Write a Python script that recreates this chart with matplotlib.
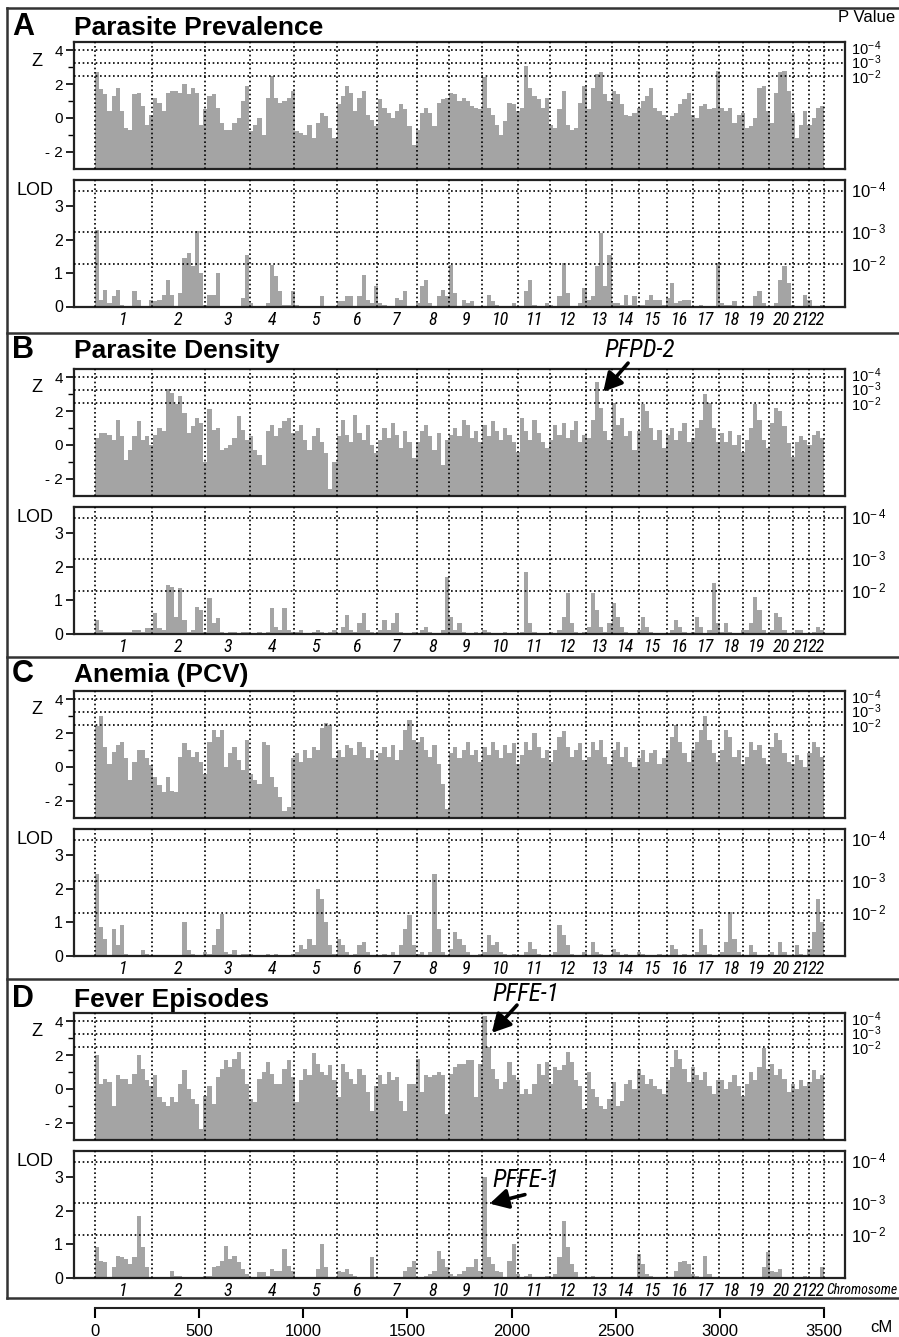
import os
import numpy as np
import matplotlib
matplotlib.use('Agg')
import matplotlib.pyplot as plt
from matplotlib import font_manager
from matplotlib.font_manager import FontProperties
from matplotlib.lines import Line2D
from matplotlib.transforms import blended_transform_factory

plt.rcParams['font.family'] = ['Liberation Sans', 'DejaVu Sans']
plt.rcParams['mathtext.fontset'] = 'custom'
plt.rcParams['mathtext.rm'] = 'Liberation Sans'
plt.rcParams['mathtext.it'] = 'Liberation Sans:italic'


def pick_condensed():
    """Find a narrow / condensed sans italic face if one is installed."""
    best, best_score = None, -1
    for f in font_manager.fontManager.ttflist:
        nm = f.name.lower()
        fn = os.path.basename(f.fname).lower()
        narrow = ('narrow' in nm or 'condensed' in nm or 'narrow' in fn or 'condensed' in fn
                  or str(f.stretch) in ('condensed', 'semi-condensed', 'extra-condensed'))
        if not narrow or 'mono' in nm or 'mono' in fn:
            continue
        if 'serif' in nm and 'sans' not in nm:
            continue
        score = 1
        if 'liberation' in nm or 'arial' in nm:
            score += 6
        elif 'roboto' in nm or 'open sans' in nm or 'noto sans' in nm:
            score += 4
        elif 'dejavu' in nm:
            score += 2
        if f.style in ('italic', 'oblique') or 'italic' in fn or 'oblique' in fn:
            score += 5
        if 'bold' in fn or 'light' in fn or 'thin' in fn or 'black' in fn or 'medium' in fn:
            score -= 4
        if score > best_score:
            best, best_score = f, score
    return best


_cond = pick_condensed()


def narrow_font(size):
    if _cond is not None:
        return FontProperties(fname=_cond.fname, size=size)
    return FontProperties(family='Liberation Sans', style='italic', size=size * 0.82)

# ---------------- data ----------------
BIN = 20  # cM per bar
bin_start_cm = np.arange(0, 3500, BIN)

chrom_bounds_cm = [0, 275, 527, 747, 955, 1160, 1352, 1544, 1701, 1859, 2032, 2184,
                   2357, 2483, 2611, 2745, 2869, 2997, 3112, 3236, 3352, 3427, 3497]
chrom_labels = [str(i) for i in range(1, 23)]

z_thresholds = [4.0, 3.25, 2.48]
lod_thresholds = [3.46, 2.22, 1.26]
pval_labels = [r'$\mathregular{10^{-\,4}}$', r'$\mathregular{10^{-\,3}}$', r'$\mathregular{10^{-\,2}}$']

cm_ticks = [0, 500, 1000, 1500, 2000, 2500, 3000, 3500]
z_ticks = [-2, 0, 2, 4]
z_ticklabels = ['- 2', '0', '2', '4']
lod_ticks = [0, 1, 2, 3]

prev_z = [2.7, 1.7, 1.4, 0.4, 1.3, 1.8, 0.4, -0.6, -0.7, 1.4, 1.5, 0.7, -0.4, 0.2,
          1.2, 0.9, 0.4, 1.5, 1.6, 1.6, 1.5, 2.0, 1.4, 1.8, 1.5, -0.4, 0.5,
          1.3, 1.4, 0.6, -0.3, -0.7, -0.7, -0.3, 0.0, 1.0, 1.9, -0.8,
          -0.4, 0.0, -1.0, 1.2, 2.5, 1.2, 0.9, 1.0, 1.2, 1.6,
          -0.8, -0.9, -1.0, -0.4, -1.2, -0.3, 0.3, 0.1, -0.6, -1.2,
          0.8, 1.3, 1.9, 1.5, 0.4, 1.2, 1.6, 0.2, -0.1, -0.5,
          1.1, 0.6, 0.3, 0.0, 0.4, 0.8, 0.5, -0.5, -1.6,
          -0.7, 0.3, 0.6, 0.3, -0.5, 0.9, 1.1, 1.2,
          1.5, 1.4, 1.0, 1.2, 1.0, 0.7, 0.6, 0.5,
          2.4, 0.6, 0.2, -0.4, -1.0, -0.2, 0.9, 0.8, 0.4,
          0.6, 3.1, 1.8, 1.3, 1.1, 0.6, 1.2,
          -0.4, -0.6, 0.5, 1.6, -0.4, -0.7, -0.6, 0.9, 1.9,
          0.5, 1.8, 2.6, 2.7, 1.4, 1.0,
          1.6, 1.4, 0.8, 0.2, 0.1, 0.3,
          0.6, 1.0, 1.3, 1.8, 0.6, 0.4, 0.2,
          -0.1, 0.1, 0.3, 0.8, 1.1, 1.5,
          0.2, 0.0, 0.7, 0.8, 0.5, 0.6, 2.8,
          0.6, 0.4, 0.6, -0.3, 0.2, 0.3,
          -0.6, -0.5, 0.0, 1.8, 1.9, 0.4,
          -0.3, 1.5, 2.7, 2.8, 1.6,
          0.3, -1.2, -0.4, 0.4,
          -0.4, 0.0, 0.6, 0.7]

prev_lod = [2.3, 0.2, 0.5, 0.1, 0.3, 0.5, 0.05, 0, 0, 0.45, 0.2, 0, 0, 0.2,
            0.15, 0.2, 0.35, 0.8, 0.35, 0, 0.4, 1.45, 1.6, 1.2, 2.25, 1.0, 0.05,
            0.35, 0.35, 1.0, 0, 0, 0, 0, 0, 0.25, 1.55, 0.1,
            0, 0, 0, 0.1, 1.25, 0.9, 0.45, 0.05, 0.05, 0.45,
            0.05, 0, 0, 0, 0, 0, 0.3, 0, 0, 0,
            0.15, 0.15, 0.3, 0.3, 0, 0.3, 0.95, 0.2, 0.1, 0.6,
            0.1, 0.05, 0, 0, 0.25, 0.2, 0.45, 0, 0,
            0.1, 0.6, 0.8, 0.1, 0, 0.3, 0.5, 0.3,
            1.25, 0.4, 0, 0.2, 0.1, 0.15, 0, 0,
            0, 0.35, 0.15, 0.05, 0, 0, 0, 0.1, 0,
            0, 0.45, 0.8, 0.05, 0, 0, 0.1,
            0.05, 0, 0.3, 1.3, 0.4, 0, 0, 0.1, 0.55,
            0.2, 0.3, 1.2, 2.2, 0.6, 1.55,
            0.1, 0.1, 0.05, 0.35, 0.05, 0.3,
            0.05, 0.05, 0.2, 0.35, 0.2, 0.2, 0.05,
            0.25, 0.7, 0.1, 0.15, 0.2, 0.2,
            0, 0, 0.05, 0, 0, 0, 1.3,
            0.1, 0.05, 0.05, 0.15, 0, 0,
            0, 0, 0.3, 0.45, 0.1, 0,
            0, 0.1, 0.8, 1.2, 0.7,
            0.05, 0, 0, 0.35,
            0.2, 0, 0, 0.05]

dens_z = [0.4, 0.7, 0.7, 0.6, 0.3, 1.5, 0.5, -0.9, -0.3, 0.5, 1.4, 0.3, 0.5, 0.0,
          0.6, 1.0, 0.8, 3.3, 3.1, 2.4, 2.9, 1.9, 0.7, 1.1, 1.6, 1.3, -1.0,
          2.1, 0.9, 1.0, -0.3, -0.2, 0.0, 0.4, 1.7, 0.9, 0.3, 0.5,
          -0.3, -0.6, -1.2, 0.8, 1.2, 0.5, 1.0, 1.4, 1.6, 0.7,
          0.8, 1.2, 0.3, -0.3, 0.5, 1.0, 0.2, -0.5, -2.6, -1.0,
          0.5, 1.5, 0.6, 0.2, 1.8, 0.7, 0.3, 1.2, 0.0, -0.5,
          0.3, 1.0, 0.4, 1.3, 0.6, -0.2, 0.8, 0.2, -0.8,
          0.2, 0.8, 1.2, 0.5, -0.3, 0.7, -1.2, 0.3,
          0.6, 1.0, 0.5, 1.5, 1.2, 0.4, 0.8, 0.2,
          1.2, 0.5, 1.4, 0.8, 0.3, 1.0, 0.6, 0.2, -0.4,
          1.6, 0.8, 0.3, 1.5, 0.7, 0.2, -0.2,
          0.3, 1.2, 0.6, 1.3, 0.4, 0.9, 1.4, 0.2, 0.6,
          0.4, 1.5, 3.7, 2.2, 0.8, 0.3,
          2.5, 1.2, 1.6, 0.5, 0.8, -0.3,
          0.8, 2.4, 2.0, 1.0, 0.3, 0.9, -0.2,
          0.6, 1.0, 0.3, 0.8, 1.3, 0.2,
          0.4, 1.0, 1.5, 3.0, 2.5, 1.0, 0.2,
          0.7, 0.2, 0.8, 0.0, 0.6, -0.4,
          0.3, 1.0, 2.4, 1.5, 0.3, -0.2,
          1.3, 2.2, 2.0, 1.1, 0.1,
          -0.7, 0.2, 0.5, 0.3,
          0.0, 0.6, 0.8, 0.4]

dens_lod = [0.4, 0.1, 0.05, 0.05, 0.05, 0.05, 0.05, 0.05, 0.05, 0.1, 0.1, 0.05, 0.15, 0.15,
            0.6, 0.15, 0.1, 1.45, 1.4, 0.5, 1.35, 0.4, 0.05, 0.1, 0.8, 0.7, 0.05,
            1.05, 0.3, 0.45, 0.05, 0.0, 0.05, 0.05, 0.0, 0.05, 0.05, 0.0,
            0.0, 0.05, 0.0, 0.05, 0.75, 0.2, 0.1, 0.75, 0.1, 0.05,
            0.05, 0.1, 0.0, 0.0, 0.05, 0.1, 0.05, 0.0, 0.05, 0.1,
            0.0, 0.2, 0.55, 0.1, 0.05, 0.3, 0.6, 0.1, 0.05, 0.0,
            0.1, 0.4, 0.1, 0.3, 0.6, 0.05, 0.0, 0.0, 0.05,
            0.0, 0.1, 0.2, 0.05, 0.0, 0.0, 0.1, 1.7,
            0.5, 0.1, 0.3, 0.05, 0.0, 0.0, 0.05, 0.0,
            0.1, 0.05, 0.0, 0.0, 0.0, 0.05, 0.0, 0.0, 0.0,
            0.05, 1.85, 0.3, 0.05, 0.0, 0.0, 0.0,
            0.05, 0.0, 0.1, 0.5, 1.2, 0.3, 0.05, 0.0, 0.05,
            0.2, 1.2, 0.7, 0.2, 0.05, 0.3,
            0.9, 0.5, 0.2, 0.05, 0.0, 0.0,
            0.1, 0.5, 0.2, 0.05, 0.0, 0.0, 0.0,
            0.0, 0.1, 0.4, 0.2, 0.05, 0.0,
            0.05, 0.5, 0.2, 0.0, 0.1, 1.5, 0.3,
            0.05, 0.3, 0.05, 0.0, 0.0, 0.1,
            0.1, 0.3, 1.1, 0.7, 0.1, 0.0,
            0.1, 0.6, 0.5, 0.1, 0.0,
            0.0, 0.1, 0.1, 0.0,
            0.0, 0.05, 0.2, 0.1]

anem_z = [2.4, 3.0, 1.2, 0.2, 0.9, 1.3, 1.5, 0.5, -0.8, 0.3, 1.0, 1.0, 0.5, 0.1,
          -0.6, -1.1, -1.5, -0.6, -1.4, -1.5, 0.6, 1.4, 1.0, 0.6, 0.9, 0.3, -0.4,
          1.5, 2.2, 1.8, 2.2, 0.0, 0.8, 1.2, 0.4, -0.2, 1.6, -0.4,
          -0.8, -1.0, 1.5, 1.3, -0.6, -1.2, -1.8, -2.6, -2.4, 0.5,
          0.8, 0.3, 1.0, 0.5, 1.2, 1.0, 2.3, 2.6, 2.5, 0.5,
          1.0, 0.6, 1.3, 1.1, 0.7, 1.5, 1.2, 0.5, 1.0, 0.4,
          0.8, 1.2, 0.6, 1.3, 0.4, 1.0, 2.2, 2.8, 1.6,
          1.5, 1.8, 1.0, 0.6, 1.3, 0.2, -1.0, -2.5,
          0.8, 1.2, 0.5, 1.0, 1.5, 0.7, 1.0, 0.3,
          1.2, 0.7, 1.5, 1.0, 0.5, 1.3, 0.8, 1.4, 0.2,
          0.7, 1.5, 1.0, 2.0, 1.2, 0.5, 1.0,
          0.3, 1.0, 1.8, 2.1, 1.2, 0.6, 1.0, 1.4, 0.4,
          0.6, 1.5, 1.0, 1.6, 0.6, 0.2,
          1.0, 1.5, 0.6, 1.2, 0.3, 0.0,
          0.5, 1.0, 0.3, 0.8, 1.0, 0.2, 0.5,
          1.0, 1.8, 2.5, 1.5, 0.8, 0.3,
          1.0, 1.5, 2.2, 3.0, 1.6, 0.8, 0.3,
          1.0, 2.2, 1.8, 0.6, 1.0, 0.2,
          0.6, 1.5, 1.0, 1.3, 0.5, 0.2,
          1.2, 2.0, 1.6, 0.8, 0.3,
          0.2, 0.7, 0.4, 0.0,
          0.8, 1.5, 1.2, 0.6]

anem_lod = [2.45, 0.85, 0.5, 0.0, 0.8, 0.3, 0.9, 0.05, 0.0, 0.0, 0.0, 0.15, 0.05, 0.0,
            0.0, 0.0, 0.0, 0.0, 0.0, 0.0, 0.0, 1.0, 0.15, 0.05, 0.0, 0.0, 0.1,
            0.05, 0.3, 0.8, 1.25, 0.1, 0.05, 0.15, 0.0, 0.05, 0.05, 0.05,
            0.0, 0.0, 0.0, 0.05, 0.0, 0.05, 0.0, 0.0, 0.0, 0.05,
            0.1, 0.3, 0.2, 0.5, 0.3, 2.0, 1.7, 1.0, 0.3, 0.05,
            0.5, 0.3, 0.1, 0.0, 0.05, 0.3, 0.4, 0.1, 0.0, 0.0,
            0.0, 0.05, 0.0, 0.1, 0.0, 0.3, 0.8, 1.2, 0.3,
            0.05, 0.1, 0.0, 0.1, 2.45, 0.8, 0.1, 0.0,
            0.2, 0.7, 0.5, 0.3, 0.1, 0.0, 0.0, 0.05,
            0.1, 0.6, 0.3, 0.4, 0.1, 0.05, 0.0, 0.05, 0.0,
            0.0, 0.1, 0.4, 0.2, 0.05, 0.0, 0.0,
            0.0, 0.1, 0.9, 0.6, 0.3, 0.05, 0.0, 0.0, 0.1,
            0.0, 0.4, 0.1, 0.05, 0.0, 0.0,
            0.2, 0.1, 0.0, 0.05, 0.0, 0.0,
            0.1, 0.05, 0.0, 0.0, 0.0, 0.05, 0.0,
            0.0, 0.3, 0.2, 0.0, 0.05, 0.0,
            0.0, 0.1, 0.8, 0.3, 0.05, 0.0, 0.0,
            0.1, 0.4, 1.3, 0.5, 0.1, 0.0,
            0.0, 0.3, 0.1, 0.0, 0.0, 0.0,
            0.1, 0.0, 0.4, 0.1, 0.0,
            0.0, 0.3, 0.05, 0.0,
            0.2, 0.7, 1.7, 1.0]

fever_z = [2.0, 0.3, 0.6, 0.4, -1.0, 0.8, 0.6, 0.6, 0.3, 0.9, 2.0, 1.2, 0.5, 0.2,
           0.8, -0.5, -0.8, -1.0, -0.5, -0.8, 0.3, 1.1, 0.0, -0.6, -0.9, -2.4, -0.4,
           0.2, -0.9, 0.7, 1.2, 1.7, 1.3, 1.8, 2.2, 1.2, 0.3, -0.6,
           -0.8, 0.6, 1.0, 1.6, 0.9, 0.3, 0.3, 1.2, 1.7, 0.7,
           -0.8, 0.5, 1.2, 0.8, 2.1, 1.5, 1.0, 0.8, 1.4, 0.5,
           -0.5, 1.5, 1.0, 0.6, 0.3, 1.2, 0.8, -0.2, -1.3, 0.2,
           0.8, 0.3, 1.0, 0.5, 0.7, -0.7, -1.3, 0.3, 0.3,
           1.8, -0.2, 0.8, 0.7, 0.8, 1.0, 0.8, -1.5,
           0.9, 1.3, 1.5, 1.5, 1.7, 1.7, -0.5, 1.5,
           4.3, 2.5, 1.2, 0.6, 0.0, 0.4, 1.6, 0.8, 0.5,
           -0.3, 0.0, -0.3, 0.3, 1.5, 0.8, 1.6,
           0.3, 1.3, 1.1, 1.4, 2.2, 1.6, 0.5, 0.2, -1.2,
           1.0, 0.0, -0.5, -1.0, -1.2, -0.6,
           0.4, -1.0, -0.7, 0.3, 0.5, 0.0,
           1.2, 0.8, 0.3, 0.6, 0.2, 0.0, -0.3,
           0.5, 1.3, 2.3, 1.8, 1.2, 0.4,
           1.3, 0.8, 0.5, 1.0, 0.2, -0.3, 0.5,
           0.5, 0.0, 0.4, 0.8, 0.2, -0.4,
           0.3, 1.0, 0.5, 1.3, 2.4, 1.2,
           1.5, 0.8, 1.2, 0.6, -0.2,
           0.3, 0.0, 0.5, 0.2,
           0.4, 1.1, 0.6, 0.8]

fever_lod = [0.9, 0.5, 0.45, 0, 0.3, 0.65, 0.6, 0.55, 0.4, 0.6, 1.85, 0.9, 0.3, 0,
             0, 0, 0, 0, 0.2, 0.05, 0.05, 0, 0, 0, 0, 0, 0.05,
             0.05, 0.3, 0.35, 0.5, 0.95, 0.55, 0.65, 0.45, 0.25, 0.1, 0,
             0, 0.15, 0.15, 0.05, 0.25, 0.2, 0.2, 0.85, 0.35, 0.2,
             0, 0, 0, 0, 0, 0.25, 1.0, 0.3, 0, 0,
             0.2, 0.15, 0.25, 0.1, 0.05, 0, 0, 0, 0.6, 0,
             0, 0, 0, 0, 0, 0, 0.2, 0.3, 0.5,
             0, 0, 0.05, 0.1, 0.2, 0.8, 0.55, 0.3,
             0.1, 0.05, 0.1, 0.2, 0.3, 0.3, 0.55, 0.2,
             3.0, 0.6, 0.4, 0.2, 0.15, 0, 0.5, 1.0, 0.1,
             0, 0.05, 0.1, 0, 0, 0, 0.05,
             0, 0.1, 0.6, 1.7, 0.9, 0.4, 0.15, 0, 0,
             0, 0.05, 0, 0, 0, 0,
             0, 0, 0, 0, 0, 0,
             0.7, 0.4, 0.1, 0.05, 0, 0, 0,
             0, 0, 0.2, 0.45, 0.5, 0.4,
             0.1, 0.05, 0, 0.65, 0.1, 0, 0,
             0, 0, 0, 0, 0, 0,
             0, 0, 0, 0, 0.3, 0.75,
             0.2, 0.15, 0.25, 0, 0,
             0, 0, 0, 0.05,
             0, 0, 0, 0.3]

panel_letters = ['A', 'B', 'C', 'D']
panel_titles = ['Parasite Prevalence', 'Parasite Density', 'Anemia (PCV)', 'Fever Episodes']
z_series = [prev_z, dens_z, anem_z, fever_z]
lod_series = [prev_lod, dens_lod, anem_lod, fever_lod]

for s in z_series + lod_series:
    assert len(s) == len(bin_start_cm), len(s)

# ---------------- layout (pixels) ----------------
W, H = 899, 1337
fig = plt.figure(figsize=(W / 100, H / 100), dpi=100)
fig.patch.set_facecolor('white')


def fx(px):
    return px / W


def fy(py):
    return 1 - py / H


AX_L, AX_R = 74, 845
Z_TOPS = [42, 369, 691, 1013]
TITLE_BASE = [35, 358, 682, 1007]
Z_H, GAP, LOD_H = 126.5, 11, 127
Z_MIN, Z_MAX = -3, 4.5
LOD_MAX = 3.8
XLIM = (-100, 3600)
FILL = '#a4a4a4'
DOT = (0, (1, 1.6))
ARROW = dict(arrowstyle='-|>,head_length=0.55,head_width=0.3', color='black', lw=2.6,
             mutation_scale=20, shrinkA=0, shrinkB=0)


def make_axes(top, h):
    return fig.add_axes([fx(AX_L), fy(top + h), (AX_R - AX_L) / W, h / H])


def decorate(ax, thresholds, label_offsets, label_size):
    for b in chrom_bounds_cm:
        ax.axvline(b, color='black', lw=1.2, ls=DOT, zorder=3)
    for t in thresholds:
        ax.axhline(t, color='black', lw=1.2, ls=DOT, zorder=3)
    ax.set_xlim(*XLIM)
    ax.set_xticks([])
    for sp in ax.spines.values():
        sp.set_linewidth(1.6)
        sp.set_color('#222222')
    ax.tick_params(axis='y', direction='out', length=6, width=1.2, pad=2, labelsize=11)
    ax.tick_params(axis='y', which='minor', direction='out', length=4, width=1.0)
    trans = blended_transform_factory(ax.transAxes, ax.transData)
    for t, lab, off in zip(thresholds, pval_labels, label_offsets):
        ax.text(1.008, t + off, lab, transform=trans, fontsize=label_size,
                va='center', ha='left')


chrom_centers = [(a + b) / 2 for a, b in zip(chrom_bounds_cm[:-1], chrom_bounds_cm[1:])]

for k in range(4):
    top = Z_TOPS[k]
    axz = make_axes(top, Z_H)
    axz.bar(bin_start_cm, np.asarray(z_series[k]) - Z_MIN, bottom=Z_MIN, width=BIN,
            align='edge', color=FILL, linewidth=0, zorder=1)
    axz.set_ylim(Z_MIN, Z_MAX)
    axz.set_yticks(z_ticks)
    axz.set_yticklabels(z_ticklabels)
    axz.set_yticks([-1, 1, 3], minor=True)
    decorate(axz, z_thresholds, [0.12, 0.0, -0.1], 10.5)

    lod_top = top + Z_H + GAP
    axl = make_axes(lod_top, LOD_H)
    axl.bar(bin_start_cm, lod_series[k], width=BIN, align='edge', color=FILL,
            linewidth=0, zorder=1)
    axl.set_ylim(0, LOD_MAX)
    axl.set_yticks(lod_ticks)
    decorate(axl, lod_thresholds, [0.0, 0.0, 0.0], 12)
    axl.tick_params(axis='y', labelsize=11.5)

    # chromosome numbers
    tr = blended_transform_factory(axl.transData, axl.transAxes)
    for c, lab in zip(chrom_centers, chrom_labels):
        axl.text(c, -13.5 / LOD_H, lab, transform=tr, ha='center', va='center',
                 fontproperties=narrow_font(13))
    if k == 3:
        fig.text(fx(826), fy(lod_top + LOD_H + 12), 'Chromosome', ha='left', va='center',
                 fontproperties=narrow_font(10))

    # labels
    fig.text(fx(37), fy(top + 19), 'Z', fontsize=13, ha='center', va='center')
    fig.text(fx(35), fy(lod_top + 11), 'LOD', fontsize=13, ha='center', va='center')
    fig.text(fx(12), fy(TITLE_BASE[k]), panel_letters[k], fontsize=22, weight='bold',
             ha='left', va='baseline')
    fig.text(fx(74), fy(TITLE_BASE[k]), panel_titles[k], fontsize=19, weight='bold',
             ha='left', va='baseline')

    if k == 1:
        axz.annotate('', xy=(2440, 3.15), xytext=(2559, 4.85), annotation_clip=False,
                     arrowprops=ARROW)
        axz.text(2615, 5.62, 'PFPD-2', ha='center', va='center', clip_on=False,
                 fontproperties=narrow_font(18))
    if k == 3:
        axz.annotate('', xy=(1905, 3.32), xytext=(2026, 4.97), annotation_clip=False,
                     arrowprops=ARROW)
        axz.text(2068, 5.62, 'PFFE-1', ha='center', va='center', clip_on=False,
                 fontproperties=narrow_font(18))
        axl.annotate('', xy=(1895, 2.21), xytext=(2064, 2.48), arrowprops=ARROW)
        axl.text(2068, 2.92, 'PFFE-1', ha='center', va='center',
                 fontproperties=narrow_font(18))

fig.text(fx(867), fy(18), 'P Value', fontsize=12, ha='center', va='center')

# panel frame and separators
FRAME = dict(color='#333333', lw=1.8, transform=fig.transFigure)
for yy in [8, 333, 657, 979, 1298]:
    fig.add_artist(Line2D([fx(7), 1.0], [fy(yy), fy(yy)], **FRAME))
fig.add_artist(Line2D([fx(7), fx(7)], [fy(8), fy(1298)], **FRAME))

# bottom cM axis
axc = fig.add_axes([fx(AX_L), fy(1307.5), (AX_R - AX_L) / W, 0.5 / H])
axc.set_xlim(*XLIM)
axc.patch.set_visible(False)
for name in ['top', 'left', 'right']:
    axc.spines[name].set_visible(False)
axc.spines['bottom'].set_bounds(cm_ticks[0], cm_ticks[-1])
axc.spines['bottom'].set_linewidth(1.5)
axc.spines['bottom'].set_color('#222222')
axc.set_yticks([])
axc.set_xticks(cm_ticks)
axc.set_xticklabels([str(t) for t in cm_ticks])
axc.tick_params(axis='x', direction='out', length=7, width=1.5, pad=5, labelsize=12)
fig.text(fx(881), fy(1328), 'cM', fontsize=12, ha='center', va='center')

fig.savefig('out.png', dpi=100, facecolor='white')
